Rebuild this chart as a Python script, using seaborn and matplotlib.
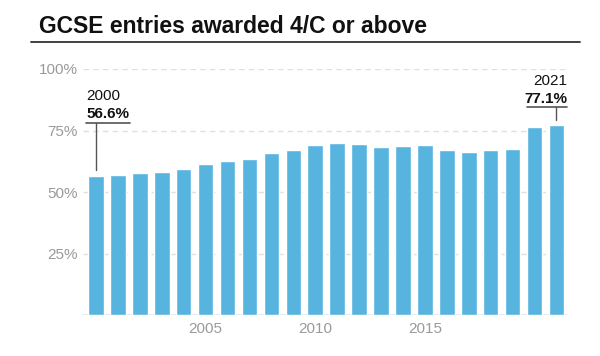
import pandas as pd
import seaborn as sns
import matplotlib.pyplot as plt

years = [str(y) for y in range(2000, 2022)]
pass_rates = [56.6, 57.1, 57.9, 58.1, 59.2, 61.2, 62.4, 63.3, 65.7, 67.1, 69.1,
              69.8, 69.4, 68.1, 68.8, 69.0, 66.9, 66.3, 66.9, 67.3, 76.3, 77.1]
y_ticks = [25, 50, 75, 100]
y_tick_labels = ["25%", "50%", "75%", "100%"]
x_tick_labels = ["2005", "2010", "2015"]

title = "GCSE entries awarded 4/C or above"
bar_colour = "#56B4DF"


def draw_chart(df):
    sns.set_style("white")
    plt.rcParams["font.family"] = ["Liberation Sans", "DejaVu Sans"]

    fig = plt.figure(figsize=(6, 3.56), dpi=100)
    ax = fig.add_axes([83 / 600, 1 - 315 / 356, 484 / 600, 246 / 356])

    # grid first so bars sit on top
    for t in y_ticks:
        ax.axhline(t, color="#e0e0e0", lw=1, ls=(0, (4, 3)), zorder=0)
    ax.axhline(0, color="#e3e3e3", lw=1.2, zorder=0)

    sns.barplot(data=df, x="year", y="rate", color=bar_colour, width=0.71,
                saturation=1, ax=ax, zorder=2)

    ax.set_xlim(-0.593, 21.48)
    ax.set_ylim(0, 100)
    ax.set_yticks(y_ticks, y_tick_labels)
    ax.set_xticks([years.index(y) for y in x_tick_labels], x_tick_labels)
    ax.tick_params(axis="both", length=0, colors="#9a9a9a", labelsize=11)
    ax.tick_params(axis="y", pad=4)
    ax.tick_params(axis="x", pad=5)
    ax.set_xlabel("")
    ax.set_ylabel("")
    sns.despine(ax=ax, left=True, bottom=True)

    # first and last year callouts
    first, last = 0, len(years) - 1
    ax.text(-0.45, 87.6, years[first], fontsize=11, color="#111111", clip_on=False)
    ax.text(-0.45, 80.1, f"{pass_rates[first]}%", fontsize=11, fontweight="bold",
            color="#111111", clip_on=False)
    ax.plot([-0.456, 1.55], [78, 78], color="#555555", lw=1.2, clip_on=False)
    ax.plot([first, first], [78, pass_rates[first] + 2.3], color="#555555", lw=1, clip_on=False)

    ax.text(21.48, 93.3, years[last], fontsize=11, color="#111111", ha="right", clip_on=False)
    ax.text(21.48, 86.2, f"{pass_rates[last]}%", fontsize=11, fontweight="bold",
            color="#111111", ha="right", clip_on=False)
    ax.plot([19.65, 21.48], [84.6, 84.6], color="#555555", lw=1.2, clip_on=False)
    ax.plot([last, last], [84.6, pass_rates[last] + 2.2], color="#555555", lw=1, clip_on=False)

    fig.text(39 / 600, 1 - 33 / 356, title, fontsize=16.5, fontweight="bold",
             color="#111111", va="baseline")
    fig.add_artist(plt.Line2D([31 / 600, 580 / 600], [1 - 42 / 356, 1 - 42 / 356],
                              color="#333333", lw=1.3))

    fig.savefig("out.png", dpi=100)


def main():
    df = pd.DataFrame({"year": years, "rate": pass_rates})
    draw_chart(df)


if __name__ == "__main__":
    main()
